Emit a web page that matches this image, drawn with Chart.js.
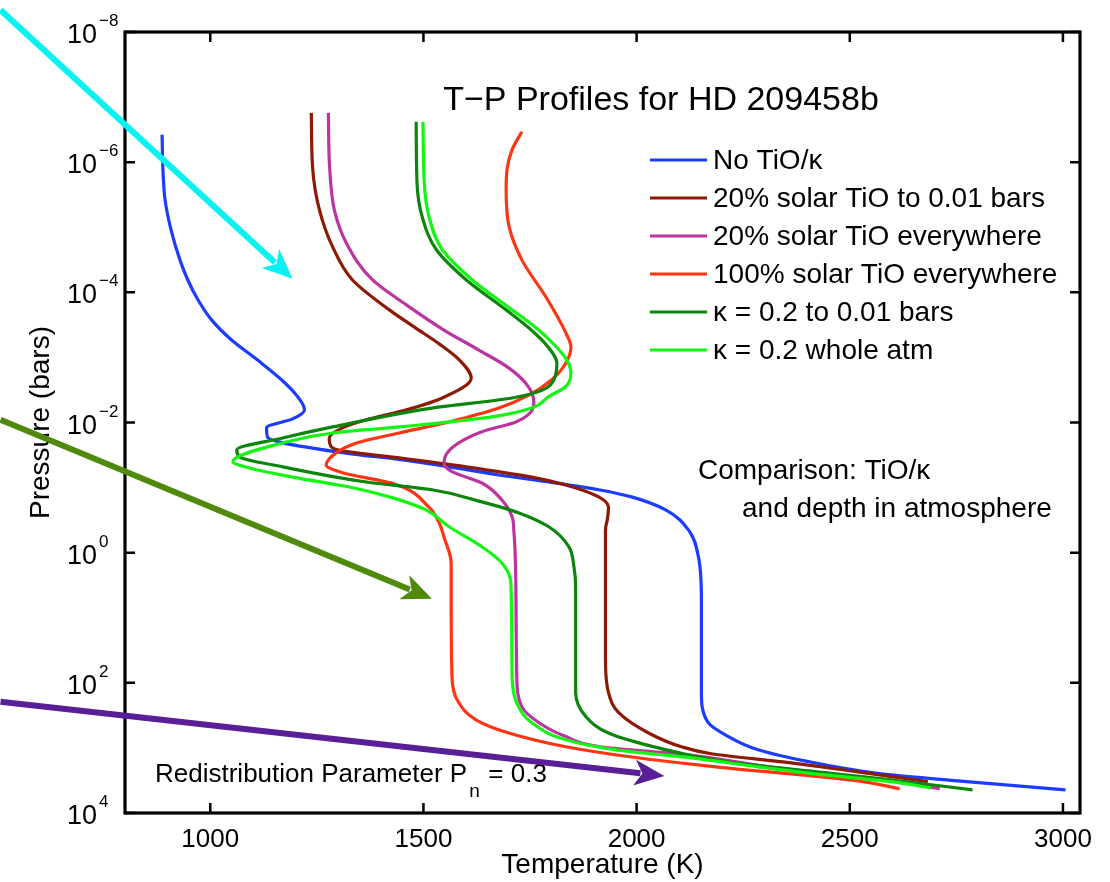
<!DOCTYPE html>
<html>
<head>
<meta charset="utf-8">
<script src="https://cdn.jsdelivr.net/npm/chart.js@4.4.0/dist/chart.umd.min.js"></script>
<style>
  html, body { margin: 0; padding: 0; background: #fff; }
</style>
</head>
<body>
<canvas id="tpChart" width="1110" height="882"></canvas>
<script>
const FONT = '"Liberation Sans", Arial, Helvetica, sans-serif'

// axis ticks
const temperatureTicks = [1000, 1500, 2000, 2500, 3000]
const pressureTicks = [1e-8, 1e-6, 1e-4, 1e-2, 1, 1e2, 1e4]

// series labels and colours
const seriesLabels = ['No TiO/κ', '20% solar TiO to 0.01 bars', '20% solar TiO everywhere',
  '100% solar TiO everywhere', 'κ = 0.2 to 0.01 bars', 'κ = 0.2 whole atm']
const seriesColors = ['#1c3cff', '#8c1a04', '#bb349f', '#ff3412', '#0b850b', '#14f514']

// temperature (K) and pressure (bars) of each profile
const noTiOTemp = [887, 889, 894, 908, 929, 947, 971, 1003, 1050, 1111, 1167, 1202, 1221, 1193, 1132, 1134, 1163,
  1326, 1443, 1560, 1677, 1794, 1911, 1988, 2068, 2122, 2145, 2152, 2152, 2168, 2208, 2285, 2442, 2596, 2753, 3006]
const noTiOPres = [3.8e-7, 1.32e-6, 3.8e-6, 1.1e-5, 3.2e-5, 6.4e-5, 1.3e-4, 2.65e-4, 5.4e-4, 1.1e-3, 2.2e-3, 3.8e-3, 6.4e-3, 8.8e-3, 1.2e-2, 1.66e-2, 2.0e-2,
  3.0e-2, 3.7e-2, 4.8e-2, 6.4e-2, 8.2e-2, 0.108, 0.139, 0.22, 0.45, 1.16, 5.3, 141, 410, 630, 1070, 1820, 2600, 3200, 4400]

const tio20TopTemp = [1237, 1240, 1256, 1287, 1333, 1420, 1478, 1537, 1584, 1612, 1544, 1460, 1366, 1310, 1279, 1284, 1310,
  1443, 1600, 1754, 1834, 1911, 1934, 1932, 1927, 1927, 1927, 1934, 1958, 2028, 2105, 2175, 2362, 2519, 2683]
const tio20TopPres = [1.75e-7, 1.2e-6, 5.4e-6, 2.0e-5, 6.4e-5, 1.86e-4, 3.4e-4, 6.2e-4, 1.09e-3, 2.07e-3, 4.2e-3, 6.4e-3, 9.1e-3, 1.21e-2, 1.73e-2, 2.37e-2, 2.73e-2,
  3.5e-2, 4.8e-2, 6.9e-2, 9.1e-2, 0.139, 0.2, 0.29, 0.45, 5.3, 44, 141, 288, 590, 960, 1230, 1700, 2340, 3300]

const tio20AllTemp = [1277, 1280, 1291, 1319, 1380, 1460, 1548, 1630, 1700, 1743, 1759, 1752, 1717, 1637, 1567, 1548, 1567,
  1637, 1684, 1708, 1712, 1717, 1719, 1731, 1771, 1834, 1911, 2129, 2285, 2442, 2596, 2711]
const tio20AllPres = [1.75e-7, 1.2e-6, 5.4e-6, 1.74e-5, 6.4e-5, 1.56e-4, 3.8e-4, 7.7e-4, 1.45e-3, 2.64e-3, 4.8e-3, 6.9e-3, 9.8e-3, 1.39e-2, 2.45e-2, 4.2e-2, 5.7e-2,
  8.5e-2, 0.155, 0.28, 0.45, 4.1, 81, 234, 410, 670, 950, 1300, 1850, 2450, 3150, 4250]

const tio100Temp = [1731, 1708, 1696, 1694, 1701, 1731, 1787, 1834, 1846, 1834, 1801, 1747, 1677, 1560, 1443, 1343, 1296, 1272,
  1310, 1432, 1513, 1537, 1548, 1565, 1565, 1567, 1579, 1623, 1700, 1834, 1988, 2185, 2519, 2617]
const tio100Pres = [3.4e-7, 6.4e-7, 1.31e-6, 2.67e-6, 9.9e-6, 3.2e-5, 1.17e-4, 4.2e-4, 6.9e-4, 1.22e-3, 2.2e-3, 3.8e-3, 6.0e-3, 9.8e-3, 1.45e-2, 2.06e-2, 2.9e-2, 4.5e-2,
  5.9e-2, 8.8e-2, 0.2, 0.35, 0.57, 1.44, 4.1, 81, 182, 370, 590, 960, 1380, 1950, 3200, 4250]

const kappaTopTemp = [1483, 1485, 1497, 1530, 1600, 1694, 1747, 1789, 1813, 1806, 1778, 1708, 1520, 1287, 1170, 1062, 1069,
  1170, 1366, 1520, 1637, 1724, 1794, 1841, 1853, 1857, 1857, 1881, 1934, 2051, 2208, 2442, 2596, 2788]
const kappaTopPres = [2.4e-7, 2.1e-6, 6.9e-6, 2.2e-5, 6.4e-5, 1.86e-4, 3.5e-4, 6.5e-4, 1.22e-3, 2.2e-3, 3.2e-3, 4.2e-3, 6.0e-3, 1.17e-2, 1.73e-2, 2.63e-2, 3.4e-2,
  4.8e-2, 8.2e-2, 0.108, 0.166, 0.245, 0.4, 0.81, 1.65, 3.35, 141, 330, 590, 1000, 1620, 2400, 3100, 4400]

const kappaAllTemp = [1499, 1502, 1513, 1544, 1614, 1708, 1764, 1808, 1836, 1846, 1834, 1794, 1754, 1661, 1443, 1287, 1170, 1053,
  1092, 1193, 1326, 1420, 1506, 1560, 1637, 1684, 1705, 1708, 1719, 1754, 1834, 1951, 2129, 2285, 2442, 2596, 2690]
const kappaAllPres = [2.4e-7, 2.1e-6, 6.9e-6, 2.2e-5, 6.4e-5, 1.86e-4, 3.5e-4, 6.5e-4, 1.09e-3, 1.73e-3, 2.8e-3, 4.0e-3, 6.0e-3, 8.2e-3, 1.17e-2, 1.45e-2, 2.06e-2, 4.0e-2,
  5.0e-2, 6.9e-2, 9.8e-2, 0.139, 0.22, 0.4, 0.81, 1.44, 2.9, 81, 204, 410, 750, 1070, 1420, 1950, 2600, 3300, 4100]

const seriesTemps = [noTiOTemp, tio20TopTemp, tio20AllTemp, tio100Temp, kappaTopTemp, kappaAllTemp]
const seriesPres = [noTiOPres, tio20TopPres, tio20AllPres, tio100Pres, kappaTopPres, kappaAllPres]

// annotation arrows: [tailT, tailP, tipT, tipP, colour]
const arrows = [
  [508, 4.6e-9, 1193, 6.2e-5, '#08f2f2'],
  [508, 9.1e-3, 1520, 5.1, '#4f8a0c'],
  [508, 195, 2065, 2700, '#5a1e96']
]

// pressure runs monotonically along every profile, so it is the index axis
const datasets = seriesLabels.map((label, i) => ({
  label: label,
  data: seriesTemps[i].map((t, j) => ({ x: t, y: seriesPres[i][j] })),
  borderColor: seriesColors[i],
  borderWidth: 3.2,
  pointRadius: 0,
  cubicInterpolationMode: 'monotone',
  fill: false,
  order: seriesLabels.length - i
}))

function supLabel (ctx, v, px, py) {
  const e = Math.round(Math.log10(v))
  ctx.textBaseline = 'alphabetic'
  ctx.font = '27px ' + FONT
  ctx.textAlign = 'right'
  ctx.fillText('10', px - 28, py + 11)
  ctx.font = '17px ' + FONT
  ctx.textAlign = 'left'
  ctx.fillText(String(e).replace('-', '−'), px - 26, py - 6)
}

function drawArrow (ctx, x0, y0, x1, y1, color) {
  const len = Math.hypot(x1 - x0, y1 - y0)
  const ux = (x1 - x0) / len
  const uy = (y1 - y0) / len
  const nx = -uy
  const ny = ux
  const L = 30
  const W = 13
  ctx.strokeStyle = color
  ctx.fillStyle = color
  ctx.lineWidth = 6
  ctx.beginPath()
  ctx.moveTo(x0, y0)
  ctx.lineTo(x1 - ux * (L - 6), y1 - uy * (L - 6))
  ctx.stroke()
  ctx.beginPath()
  ctx.moveTo(x1, y1)
  ctx.lineTo(x1 - ux * L + nx * W, y1 - uy * L + ny * W)
  ctx.lineTo(x1 - ux * (L - 8), y1 - uy * (L - 8))
  ctx.lineTo(x1 - ux * L - nx * W, y1 - uy * L - ny * W)
  ctx.closePath()
  ctx.fill()
}

const decorPlugin = {
  id: 'decor',
  afterDatasetsDraw (chart) {
    const { ctx, chartArea: a, scales: { x, y } } = chart
    ctx.save()
    ctx.strokeStyle = '#000'
    ctx.fillStyle = '#000'

    // inward ticks on all four sides
    ctx.lineWidth = 2.5
    ctx.beginPath()
    temperatureTicks.forEach(v => {
      const px = x.getPixelForValue(v)
      ctx.moveTo(px, a.bottom); ctx.lineTo(px, a.bottom - 10)
      ctx.moveTo(px, a.top); ctx.lineTo(px, a.top + 10)
    })
    pressureTicks.forEach(v => {
      const py = y.getPixelForValue(v)
      ctx.moveTo(a.left, py); ctx.lineTo(a.left + 10, py)
      ctx.moveTo(a.right, py); ctx.lineTo(a.right - 10, py)
    })
    ctx.stroke()

    // frame
    ctx.lineWidth = 3.2
    ctx.strokeRect(a.left, a.top, a.right - a.left, a.bottom - a.top)

    // y tick labels with exponents
    pressureTicks.forEach(v => supLabel(ctx, v, a.left, y.getPixelForValue(v)))

    // title
    ctx.font = '34px ' + FONT
    ctx.textAlign = 'center'
    ctx.textBaseline = 'middle'
    ctx.fillText('T−P Profiles for HD 209458b', 661, 101)

    // legend
    ctx.font = '28px ' + FONT
    ctx.textAlign = 'left'
    seriesLabels.forEach((label, i) => {
      const ly = 160 + i * 38
      ctx.strokeStyle = seriesColors[i]
      ctx.lineWidth = 3.2
      ctx.beginPath()
      ctx.moveTo(650, ly)
      ctx.lineTo(707, ly)
      ctx.stroke()
      ctx.fillStyle = '#000'
      ctx.fillText(label, 713, ly + 1)
    })

    // comparison note
    ctx.fillText('Comparison: TiO/κ', 698, 471)
    ctx.fillText('and depth in atmosphere', 742, 509)

    // redistribution note
    ctx.font = '26px ' + FONT
    ctx.textBaseline = 'alphabetic'
    const base = 'Redistribution Parameter P'
    ctx.fillText(base, 155, 782)
    const w = ctx.measureText(base).width
    ctx.font = '19px ' + FONT
    ctx.fillText('n', 155 + w + 2, 797)
    ctx.font = '26px ' + FONT
    ctx.fillText(' = 0.3', 155 + w + 14, 782)

    // arrows
    arrows.forEach(([t0, p0, t1, p1, c]) => {
      drawArrow(ctx, x.getPixelForValue(t0), y.getPixelForValue(p0),
        x.getPixelForValue(t1), y.getPixelForValue(p1), c)
    })
    ctx.restore()
  }
}

const ctx = document.getElementById('tpChart').getContext('2d')
const chart = new Chart(ctx, {
  type: 'line',
  data: { datasets: datasets },
  options: {
    indexAxis: 'y',
    responsive: false,
    animation: false,
    layout: { padding: { top: 32, right: 30, bottom: 0, left: 0 } },
    plugins: { legend: { display: false }, tooltip: { enabled: false } },
    scales: {
      x: {
        type: 'linear',
        min: 800,
        max: 3040,
        grid: { display: false },
        border: { display: false },
        afterBuildTicks: s => { s.ticks = temperatureTicks.map(v => ({ value: v })) },
        afterFit: s => { s.height = 69 },
        ticks: { color: '#000', font: { family: FONT, size: 26 }, padding: 3, maxRotation: 0, callback: v => String(v) },
        title: { display: true, text: 'Temperature (K)', color: '#000', font: { family: FONT, size: 28 }, padding: { top: 0, bottom: 0 } }
      },
      y: {
        type: 'logarithmic',
        reverse: true,
        min: 1e-8,
        max: 1e4,
        grid: { display: false },
        border: { display: false },
        afterBuildTicks: s => { s.ticks = pressureTicks.map(v => ({ value: v })) },
        afterFit: s => { s.width = 125 },
        ticks: { display: false },
        title: { display: true, text: 'Pressure (bars)', color: '#000', font: { family: FONT, size: 28 }, padding: { top: 24, bottom: 0 } }
      }
    }
  },
  plugins: [decorPlugin]
})
</script>
</body>
</html>
